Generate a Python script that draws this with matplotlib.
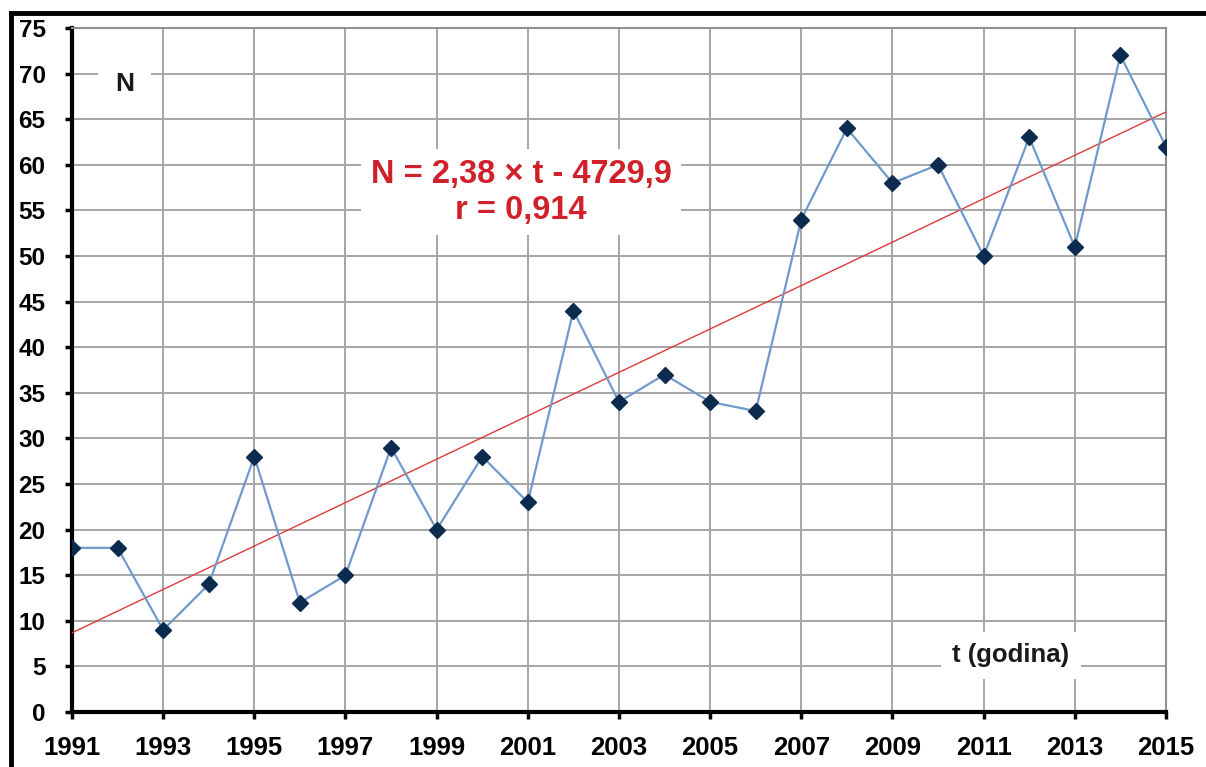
import numpy as np
import matplotlib.pyplot as plt
from matplotlib.lines import Line2D

plt.rcParams['font.family'] = ['Liberation Sans', 'DejaVu Sans']
plt.rcParams['font.weight'] = 'bold'

# data
years = [1991, 1992, 1993, 1994, 1995, 1996, 1997, 1998, 1999, 2000, 2001, 2002, 2003,
         2004, 2005, 2006, 2007, 2008, 2009, 2010, 2011, 2012, 2013, 2014, 2015]
counts = [18, 18, 9, 14, 28, 12, 15, 29, 20, 28, 23, 44, 34,
          37, 34, 33, 54, 64, 58, 60, 50, 63, 51, 72, 62]

# linear trend as given on the chart
slope = 2.38
intercept = -4729.9
r_value = 0.914

fig = plt.figure(figsize=(12.06, 7.67), dpi=100)
ax = fig.add_axes([0.0597, 0.0717, 0.9071, 0.8918])

yrs = np.array(years)
ax.plot(yrs, slope * yrs + intercept, color='#e0393e', lw=1.0, zorder=3)
ax.plot(years, counts, color='#7099cc', lw=1.6, marker='D', markersize=8,
        markerfacecolor='#0d2b4e', markeredgecolor='#0d2b4e', zorder=4)

ax.set_xlim(1991, 2015)
ax.set_ylim(0, 75)
ax.set_xticks(years[::2])
ax.set_yticks(range(0, 76, 5))
ax.grid(True, color='#a6a6a6', lw=1.4, zorder=1)
ax.tick_params(length=5, width=2.5, color='black')
ax.tick_params(axis='x', labelsize=18.5, pad=12)
ax.tick_params(axis='y', labelsize=17.5, pad=14)

for s in ['top', 'right']:
    ax.spines[s].set_color('#909090')
    ax.spines[s].set_linewidth(1.5)
for s in ['left', 'bottom']:
    ax.spines[s].set_color('black')
    ax.spines[s].set_linewidth(3)

ax.text(1992.15, 68.9, 'N', fontsize=19, ha='center', va='center',
        color='#1a1a1a', bbox=dict(facecolor='white', edgecolor='none', pad=12), zorder=5)
ax.text(2000.85, 57.0, f'N = {slope:.2f} × t - {abs(intercept):.1f}\nr = {r_value:.3f}'.replace('.', ','),
        fontsize=23.5, ha='center', va='center', color='#d0202a', linespacing=1.2,
        bbox=dict(facecolor='white', edgecolor='none', pad=7), zorder=5)
ax.text(2011.6, 6.2, 't (godina)', fontsize=18.5, ha='center', va='center',
        color='#1a1a1a', bbox=dict(facecolor='white', edgecolor='none', pad=8), zorder=5)

# outer frame remains (cropped box)
fig.add_artist(Line2D([0.0095, 1.0], [0.9835, 0.9835], color='black', lw=3.5))
fig.add_artist(Line2D([0.0095, 0.0095], [0.0, 0.9835], color='black', lw=3.5))

fig.savefig('out.png', dpi=100)
